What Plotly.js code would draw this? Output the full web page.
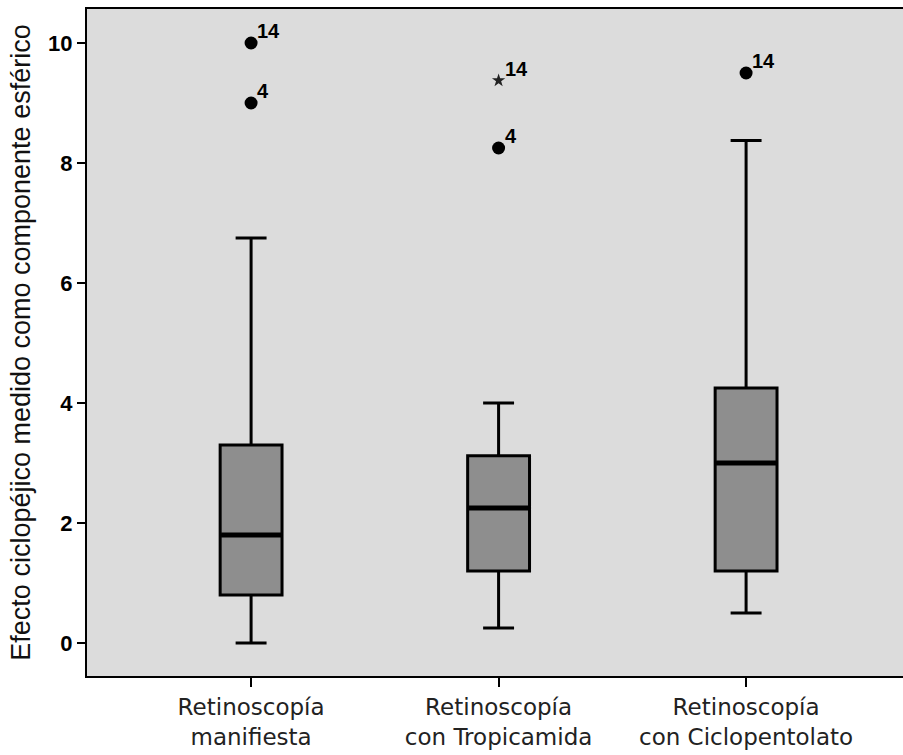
<!DOCTYPE html>
<html>
<head>
<meta charset="utf-8">
<script src="https://cdn.plot.ly/plotly-3.0.1.min.js"></script>
<style>html,body{margin:0;padding:0;background:#fff;}#chart{width:903px;height:755px;}</style>
</head>
<body>
<div id="chart"></div>
<script>
// ---- data ----
const categories = ['Retinoscopía<br>manifiesta', 'Retinoscopía<br>con Tropicamida', 'Retinoscopía<br>con Ciclopentolato'];
const categoryIndex = [0, 1, 2];
const lowerWhisker = [0, 0.25, 0.5];
const q1 = [0.8, 1.2, 1.2];
const medians = [1.8, 2.25, 3.0];
const q3 = [3.3, 3.12, 4.25];
const upperWhisker = [6.75, 4.0, 8.375];
// outliers (circles)
const outlierCat = [0, 0, 1, 2];
const outlierVal = [10, 9, 8.25, 9.5];
const outlierLabel = ['14', '4', '4', '14'];
// extreme values (stars)
const extremeCat = [1];
const extremeVal = [9.375];
const extremeLabel = ['14'];
const yTicks = [0, 2, 4, 6, 8, 10];
const yTitle = 'Efecto ciclopéjico medido como componente esférico';

// ---- style ----
const boxWidth = 0.25;
const half = boxWidth / 2 - 0.004;
const medX = [], medY = [];
categoryIndex.forEach((c, i) => { medX.push(c - half, c + half, null); medY.push(medians[i], medians[i], null); });

const labelFont = {family: 'Liberation Sans, Arial, sans-serif', size: 20, color: '#000', weight: 'bold'};

const annotations = [];
function addLabels(xs, ys, labels) {
  xs.forEach((x, i) => annotations.push({
    x: x, y: ys[i], xref: 'x', yref: 'y', text: labels[i], showarrow: false,
    xanchor: 'left', yanchor: 'middle', xshift: 4, yshift: 12, font: labelFont
  }));
}
addLabels(outlierCat, outlierVal, outlierLabel);
addLabels(extremeCat, extremeVal, extremeLabel);

const traces = [
  {
    type: 'box', x: categoryIndex, q1: q1, median: medians, q3: q3,
    lowerfence: lowerWhisker, upperfence: upperWhisker,
    width: boxWidth, whiskerwidth: 0.5, boxpoints: false,
    fillcolor: '#8e8e8e', line: {color: '#000', width: 3},
    hoverinfo: 'skip', showlegend: false
  },
  {
    type: 'scatter', mode: 'lines', x: medX, y: medY,
    line: {color: '#000', width: 5}, hoverinfo: 'skip', showlegend: false
  },
  {
    type: 'scatter', mode: 'markers', x: outlierCat, y: outlierVal,
    marker: {symbol: 'circle', size: 13, color: '#000'}, hoverinfo: 'skip', showlegend: false
  },
  {
    type: 'scatter', mode: 'markers', x: extremeCat, y: extremeVal,
    marker: {symbol: 'star', size: 10, color: '#222'}, hoverinfo: 'skip', showlegend: false
  }
];

const layout = {
  width: 903, height: 755,
  margin: {l: 87, r: 0, t: 9, b: 79},
  paper_bgcolor: '#ffffff', plot_bgcolor: '#dcdcdc',
  showlegend: false,
  annotations: annotations,
  xaxis: {
    range: [-0.663, 2.634], tickvals: categoryIndex, ticktext: categories,
    showgrid: false, zeroline: false, showline: true, linecolor: '#000', linewidth: 2, mirror: true,
    ticks: 'outside', ticklen: 9, tickwidth: 2, tickcolor: '#000',
    tickfont: {family: 'DejaVu Sans, sans-serif', size: 23, color: '#222'}
  },
  yaxis: {
    range: [-0.55, 10.567], tickvals: yTicks, ticktext: yTicks.map(String),
    showgrid: false, zeroline: false, showline: true, linecolor: '#000', linewidth: 2,
    ticks: 'outside', ticklen: 8, tickwidth: 2, tickcolor: '#000',
    tickfont: {family: 'Liberation Sans, Arial, sans-serif', size: 22, color: '#000', weight: 'bold'},
    title: {text: yTitle, font: {family: 'Liberation Sans, Arial, sans-serif', size: 27, color: '#111'}, standoff: 10}
  }
};

Plotly.newPlot('chart', traces, layout, {displayModeBar: false, staticPlot: true});
</script>
</body>
</html>
